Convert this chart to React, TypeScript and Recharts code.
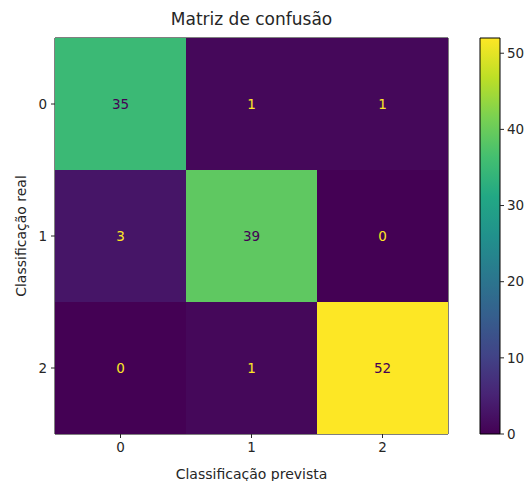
import React from 'react'
import {
  ScatterChart,
  Scatter,
  XAxis,
  YAxis,
  ReferenceArea,
  BarChart,
  Bar,
} from 'recharts'

const classes = [0, 1, 2]
const row0 = [35, 1, 1]
const row1 = [3, 39, 0]
const row2 = [0, 1, 52]
const colorbarMax = [52]
const colorbarTicks = [0, 10, 20, 30, 40, 50]

const FONT = '"DejaVu Sans", sans-serif'
const TEXT = '#262626'
const FS = 14

// plot box of the heatmap (pixels inside the chart)
const PLOT_W = 393
const PLOT_H = 396

const viridis = [
  '#440154', '#482475', '#414487', '#355f8d', '#2a788e', '#21918c',
  '#22a884', '#44bf70', '#7ad151', '#bddf26', '#fde725',
]

const hexToRgb = (h: string) => [1, 3, 5].map(i => parseInt(h.slice(i, i + 2), 16))

const viridisAt = (t: number) => {
  const x = Math.max(0, Math.min(1, t)) * (viridis.length - 1)
  const i = Math.min(Math.floor(x), viridis.length - 2)
  const f = x - i
  const a = hexToRgb(viridis[i])
  const b = hexToRgb(viridis[i + 1])
  const c = a.map((v, k) => Math.round(v + (b[k] - v) * f))
  return `rgb(${c[0]},${c[1]},${c[2]})`
}

const rows = [row0, row1, row2]
const maxVal = Math.max(...rows.flat())
const minVal = Math.min(...rows.flat())
const cells = rows.flatMap((r, i) => r.map((v, j) => ({ pred: classes[j], real: classes[i], value: v })))

const CellShape = (props: any) => {
  const { cx, cy, payload } = props
  const w = PLOT_W / classes.length
  const h = PLOT_H / classes.length
  const t = (payload.value - minVal) / (maxVal - minVal)
  const textColor = payload.value > (maxVal + minVal) / 2 ? viridis[0] : viridis[viridis.length - 1]
  return (
    <g>
      <rect x={cx - w / 2} y={cy - h / 2} width={w} height={h} fill={viridisAt(t)} />
      <text x={cx} y={cy} textAnchor="middle" dominantBaseline="central" fontSize={13.5} fontFamily={FONT} fill={textColor}>
        {payload.value}
      </text>
    </g>
  )
}

export default function App() {
  return (
    <div style={{ position: 'absolute', left: 0, top: 0, width: 529, height: 481, background: '#fff', fontFamily: FONT }}>
      <div style={{ position: 'absolute', left: 55, top: 9, width: PLOT_W, textAlign: 'center', fontSize: 17, color: TEXT }}>
        Matriz de confusão
      </div>
      <div style={{ position: 'absolute', left: 0, top: 0 }}>
        <ScatterChart width={460} height={481} margin={{ top: 38, right: 12, bottom: 0, left: 15 }}>
          <XAxis
            type="number"
            dataKey="pred"
            domain={[-0.5, 2.5]}
            ticks={classes}
            height={47}
            tickSize={4}
            tickMargin={4}
            axisLine={false}
            tick={{ fontSize: 13.5, fill: TEXT, fontFamily: FONT }}
            tickLine={{ stroke: TEXT }}
            label={{ value: 'Classificação prevista', position: 'insideBottom', offset: 2, fontSize: FS, fill: TEXT, fontFamily: FONT }}
          />
          <YAxis
            type="number"
            dataKey="real"
            domain={[-0.5, 2.5]}
            reversed
            ticks={classes}
            width={40}
            tickSize={4}
            tickMargin={4}
            axisLine={false}
            tick={{ fontSize: 13.5, fill: TEXT, fontFamily: FONT }}
            tickLine={{ stroke: TEXT }}
            label={{ value: 'Classificação real', angle: -90, position: 'insideLeft', offset: 0, dx: 6, fontSize: FS, fill: TEXT, fontFamily: FONT, style: { textAnchor: 'middle' } }}
          />
          <Scatter data={cells} shape={<CellShape />} isAnimationActive={false} />
          <ReferenceArea x1={-0.5} x2={2.5} y1={-0.5} y2={2.5} fill="none" stroke="#000" strokeWidth={1} ifOverflow="visible" />
        </ScatterChart>
      </div>
      <div style={{ position: 'absolute', left: 470, top: 0 }}>
        <BarChart
          width={59}
          height={481}
          data={colorbarMax.map(v => ({ name: 'cb', value: v }))}
          margin={{ top: 38, right: 0, bottom: 47, left: 10 }}
          barCategoryGap={0}
        >
          <defs>
            <linearGradient id="viridisGrad" x1="0" y1="1" x2="0" y2="0">
              {viridis.map((c, i) => (
                <stop key={i} offset={`${(i / (viridis.length - 1)) * 100}%`} stopColor={c} />
              ))}
            </linearGradient>
          </defs>
          <XAxis dataKey="name" hide />
          <YAxis
            orientation="right"
            type="number"
            domain={[0, 52]}
            ticks={colorbarTicks}
            width={29}
            tickSize={4}
            tickMargin={3}
            axisLine={false}
            tick={{ fontSize: 13.5, fill: TEXT, fontFamily: FONT, textAnchor: 'start' }}
            tickLine={{ stroke: TEXT }}
          />
          <Bar dataKey="value" fill="url(#viridisGrad)" stroke="#000" strokeWidth={1} isAnimationActive={false} />
        </BarChart>
      </div>
    </div>
  )
}
